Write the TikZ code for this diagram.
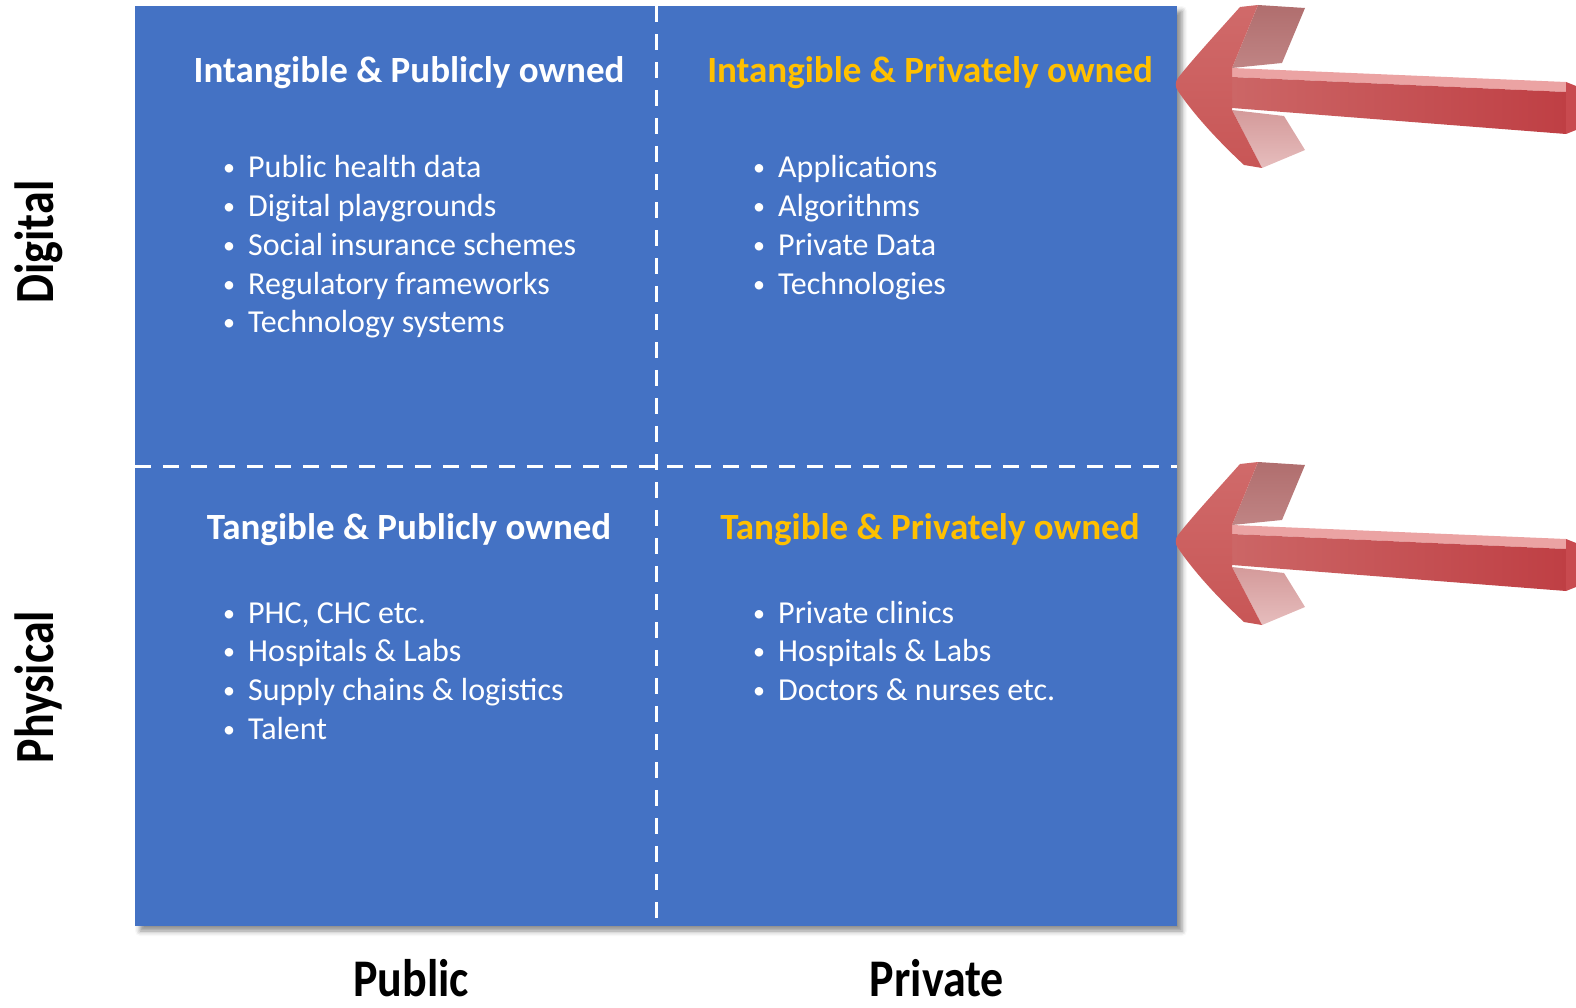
\documentclass[tikz,border=0pt]{standalone}
\usepackage{fontspec}
\setmainfont{Carlito}
\usetikzlibrary{shadows.blur}

\definecolor{quadblue}{HTML}{4472C4}
\definecolor{ownorange}{HTML}{FFC000}
\definecolor{arrowred}{HTML}{CC6666}
\definecolor{arrowmid}{HTML}{C97D7D}
\definecolor{arrowdark}{HTML}{BF3F44}
\definecolor{arrowtop}{HTML}{EBA3A3}
\definecolor{arrowend}{HTML}{C84A4F}
\definecolor{barbdark}{HTML}{B06E6E}
\definecolor{barbdarklow}{HTML}{C08484}
\definecolor{barblight}{HTML}{D49A9A}
\definecolor{barblightlow}{HTML}{E6BDBD}
\definecolor{headtop}{HTML}{D06A6A}
\definecolor{headlow}{HTML}{C85656}
\newcommand{\bul}{\makebox[27pt][l]{\hspace{2pt}\raisebox{2pt}{\scalebox{0.75}{\textbullet}}}}

\begin{document}
\begin{tikzpicture}[x=1pt,y=-1pt,
    heading/.style={font=\fontsize{37}{44}\selectfont\bfseries, inner sep=0pt, anchor=base},
    item/.style={font=\fontsize{32}{38}\selectfont, text=white, inner sep=0pt, anchor=base west},
    axislabel/.style={font=\fontsize{46}{55}\selectfont\bfseries, inner sep=0pt, anchor=base},
    divider/.style={white, line width=3pt, dash pattern=on 16pt off 12pt}]
  \useasboundingbox (0,0) rectangle (1576,1008);

  % the four quadrants
  \node[fill=quadblue, minimum width=1042pt, minimum height=920pt, inner sep=0pt,
        blur shadow={shadow xshift=5pt, shadow yshift=-5pt, shadow blur radius=5pt, shadow opacity=45}]
        (grid) at (656,466) {};
  \draw[divider] (grid.north) -- (grid.south);
  \draw[divider] (grid.west) -- (grid.east);

  \node[heading, text=white] (pubint) at (409,83) {Intangible \& Publicly owned};
  \node[heading, text=ownorange] (privint) at (930,83) {Intangible \& Privately owned};
  \node[heading, text=white] (pubtan) at (409,539) {Tangible \& Publicly owned};
  \node[heading, text=ownorange] (privtan) at (930,539) {Tangible \& Privately owned};

  \foreach \txt [count=\i] in {Public health data, Digital playgrounds, Social insurance schemes,
      Regulatory frameworks, Technology systems}
    \node[item] (pubint-\i) at (221,{178+38.7*(\i-1)}) {\bul\txt};
  \foreach \txt [count=\i] in {Applications, Algorithms, Private Data, Technologies}
    \node[item] (privint-\i) at (751,{178+38.7*(\i-1)}) {\bul\txt};
  \foreach \txt [count=\i] in {{PHC, CHC etc.}, Hospitals \& Labs, Supply chains \& logistics, Talent}
    \node[item] (pubtan-\i) at (221,{623+38.7*(\i-1)}) {\bul\txt};
  \foreach \txt [count=\i] in {Private clinics, Hospitals \& Labs, Doctors \& nurses etc.}
    \node[item] (privtan-\i) at (751,{623+38.7*(\i-1)}) {\bul\txt};

  % axis labels
  \node[axislabel] (public) at (411,996) {\scalebox{1}[1.15]{Public}};
  \node[axislabel] (private) at (937,996) {\scalebox{1}[1.15]{Private}};
  \node[axislabel, rotate=90] (digital) at (53,242) {\scalebox{1}[1.2]{Digital}};
  \node[axislabel, rotate=90] (physical) at (53,687) {\scalebox{1}[1.2]{Physical}};

  % red arrows on the right
  \foreach \dy in {0,457} {
    \begin{scope}[shift={(0,\dy)}]
      \fill[arrowtop] (1232,68) -- (1566,82) -- (1566,92) -- (1232,77) -- cycle;
      \shade[left color=arrowred, middle color=arrowmid, right color=arrowdark]
        (1232,77) -- (1566,92) -- (1566,134) -- (1232,108) -- cycle;
      \fill[arrowend] (1566,82) -- (1576,86) -- (1576,130) -- (1566,134) -- cycle;
      \shade[top color=barbdark, bottom color=barbdarklow]
        (1258,5) -- (1305,8) -- (1282,63) -- (1232,68) -- cycle;
      \shade[top color=barblight, bottom color=barblightlow]
        (1232,110) -- (1284,116) -- (1305,150) -- (1262,168) -- cycle;
      \shade[top color=headtop, bottom color=headlow]
        (1240,7) -- (1258,5) -- (1232,68) -- (1232,110) -- (1262,168) -- (1244,165)
        .. controls (1215,138) and (1192,112) .. (1178,91)
        .. controls (1175,88) and (1175,81) .. (1178,78)
        .. controls (1192,60) and (1215,35) .. (1240,7) -- cycle;
    \end{scope}
  }
\end{tikzpicture}
\end{document}
